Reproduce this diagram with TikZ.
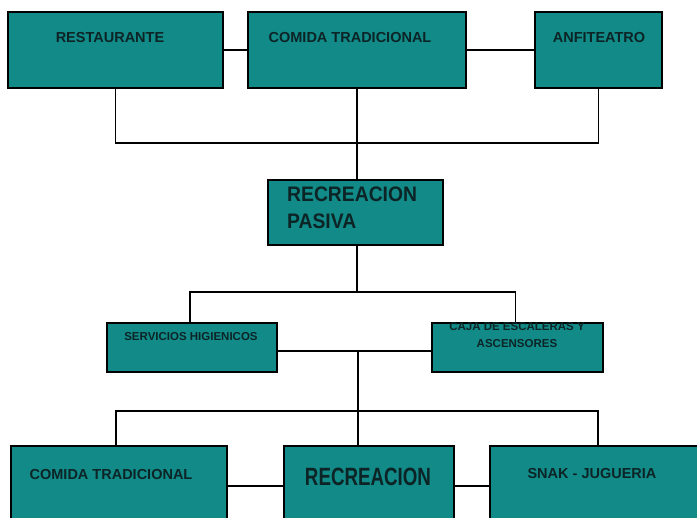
\documentclass[tikz,border=0pt]{standalone}
\usepackage{fontspec}
\usepackage{graphicx}
\setmainfont{Liberation Sans}
\usetikzlibrary{calc}
\definecolor{verdeazul}{RGB}{18,138,136}
\definecolor{tinta}{RGB}{12,36,38}

\begin{document}
\begin{tikzpicture}[x=1pt,y=-1pt,
		caja/.style={draw=black,line width=1.3pt,fill=verdeazul,inner sep=0pt},
		linea/.style={draw=black,line width=1.3pt},
		texto/.style={text=tinta,inner sep=0pt,align=center,font=\bfseries\fontsize{14.5}{17}\selectfont}]
		% marco de la figura
		\useasboundingbox (0,0) rectangle (697,518);
		
		% fila superior
		\node[caja,minimum width=215pt,minimum height=76pt] (rest) at (115.5,50) {};
		\node[caja,minimum width=218pt,minimum height=76pt] (comidaA) at (357,50) {};
		\node[caja,minimum width=127pt,minimum height=76pt] (anfi) at (598.5,50) {};
		\node[texto] (tRest) at (110,38) {RESTAURANTE};
		\node[texto] (tComidaA) at (350,38) {COMIDA TRADICIONAL};
		\node[texto] (tAnfi) at (599,38) {ANFITEATRO};
		
		% nodo central
		\node[caja,minimum width=175pt,minimum height=65pt] (pasiva) at (355.5,212.5) {};
		\node[texto,align=left,anchor=west,font=\bfseries\fontsize{21}{27}\selectfont] (tPasiva) at (287,208)
			{\scalebox{0.92}[1]{RECREACION}\\\scalebox{0.92}[1]{PASIVA}};
		
		% fila intermedia
		\node[caja,minimum width=170pt,minimum height=49pt] (serv) at (192,347.5) {};
		\node[caja,minimum width=171pt,minimum height=49pt] (escal) at (517.5,347.5) {};
		\node[texto,font=\bfseries\fontsize{11.5}{13}\selectfont] (tServ) at (191,337) {SERVICIOS HIGIENICOS};
		\node[texto,font=\bfseries\fontsize{11.5}{17}\selectfont] (tEscal) at (517,335) {CAJA DE ESCALERAS Y\\ASCENSORES};
		
		% fila inferior (cortada por el borde)
		\node[caja,minimum width=216pt,minimum height=80pt] (comidaB) at (119,486) {};
		\node[caja,minimum width=170pt,minimum height=80pt] (recre) at (369,486) {};
		\node[caja,minimum width=230pt,minimum height=80pt] (snak) at (605,486) {};
		\node[texto] (tComidaB) at (111,475) {COMIDA TRADICIONAL};
		\node[texto,font=\bfseries\fontsize{25}{28}\selectfont] (tRecre) at (368,477) {\scalebox{0.75}[1]{RECREACION}};
		\node[texto] (tSnak) at (592,474) {SNAK - JUGUERIA};
		
		% puntos de union
		\coordinate (busA) at (357,143);
		\coordinate (busB) at (357,292);
		\coordinate (medio) at (358,351);
		\coordinate (busC) at (358,411);
		
		% conexiones
		\draw[linea] (rest.east) -- (comidaA.west);
		\draw[linea] (comidaA.east) -- (anfi.west);
		\draw[linea] (rest.south) |- (busA) -| (anfi.south);
		\draw[linea] (comidaA.south) -- (comidaA.south |- pasiva.north);
		\draw[linea] (pasiva.south -| busB) -- (busB);
		\draw[linea] ([xshift=-2pt]serv.north) |- (busB) -| ([xshift=-2pt]escal.north);
		\draw[linea] ([yshift=-3.5pt]serv.east) -- ([yshift=-3.5pt]escal.west);
		\draw[linea] (medio) -- (busC);
		\draw[linea] ([xshift=-3pt]comidaB.north) |- (busC) -| ([xshift=-7pt]snak.north);
		\draw[linea] (busC) -- (busC |- recre.north);
		\draw[linea] (comidaB.east) -- (recre.west);
		\draw[linea] (recre.east) -- (snak.west);
		
	\end{tikzpicture}
\end{document}
